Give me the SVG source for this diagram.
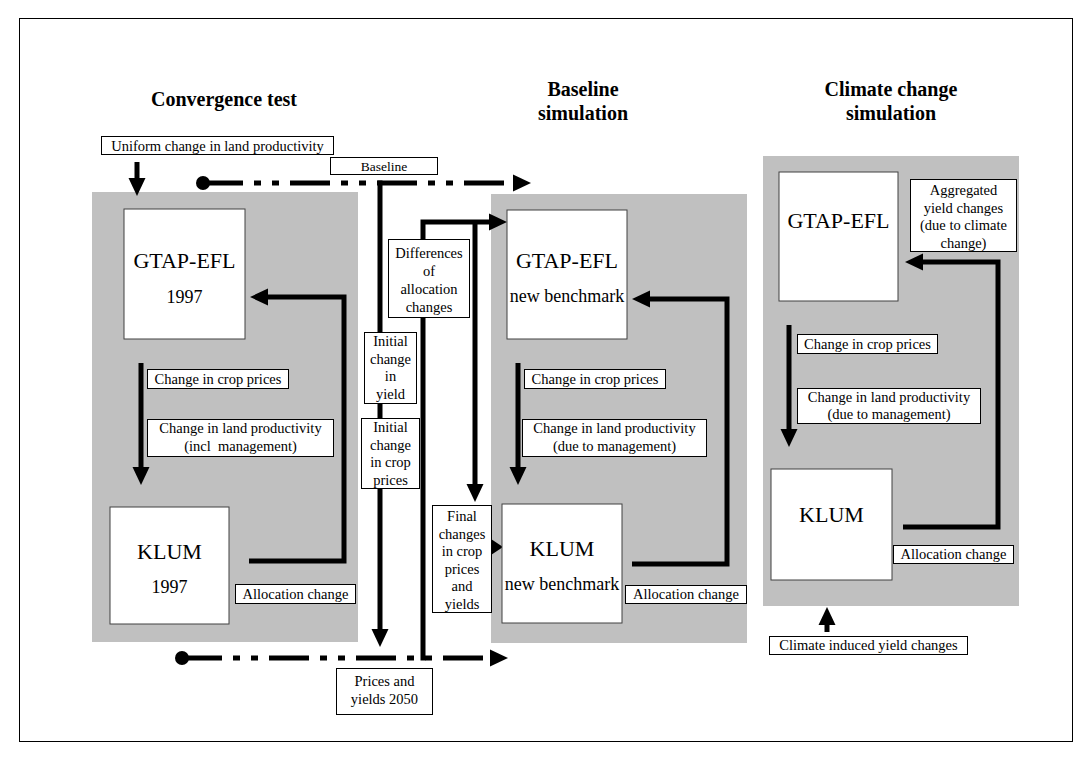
<svg xmlns="http://www.w3.org/2000/svg" width="1092" height="760" viewBox="0 0 1092 760">
<style>
.bg{fill:#fff}
.frame{fill:none;stroke:#000;stroke-width:1}
.panel{fill:#c0c0c0}
.node{fill:#fff;stroke:#404040;stroke-width:1}
.lbl{fill:#fff;stroke:#000;stroke-width:1}
text{font-family:"Liberation Serif","Times New Roman",serif;fill:#000;text-anchor:middle}
.big{font-size:22px}
.sub{font-size:18px}
.s{font-size:14.5px}
.xs{font-size:13.5px}
.title{font-size:20px;font-weight:bold}
.line{stroke:#000;stroke-width:5;fill:none}
.dash{stroke-dasharray:40 11 7 11 7 11}
</style>
<defs>
<marker id="ah" markerUnits="userSpaceOnUse" markerWidth="18" markerHeight="17" refX="2" refY="8.5" orient="auto" overflow="visible">
<path d="M0,0 L18,8.5 L0,17 z" fill="#000"/>
</marker>
</defs>
<rect class="bg" x="0" y="0" width="1092" height="760"/>
<rect class="frame" x="19.5" y="18.5" width="1053" height="723"/>

<g id="titles">
<text class="title" x="224" y="106">Convergence test</text>
<text class="title" x="583" y="96">Baseline</text>
<text class="title" x="583" y="120">simulation</text>
<text class="title" x="891" y="96">Climate change</text>
<text class="title" x="891" y="120">simulation</text>
</g>

<g id="panels">
<rect class="panel" x="92" y="192" width="266" height="450"/>
<rect class="panel" x="491" y="194" width="256" height="449"/>
<rect class="panel" x="763" y="156" width="256" height="450"/>
</g>

<g id="connectors">
<path class="line dash" d="M203,183 H515" marker-end="url(#ah)"/>
<circle cx="203" cy="183" r="7" fill="#000"/>
<path class="line dash" d="M182,658 H492" marker-end="url(#ah)"/>
<circle cx="182" cy="658" r="7" fill="#000"/>
<path class="line" d="M137,162 V180" marker-end="url(#ah)"/>
<path class="line" d="M141,363 V469" marker-end="url(#ah)"/>
<path class="line" d="M249,561 H344 V297 H266" marker-end="url(#ah)"/>
<path class="line" d="M518,363 V469" marker-end="url(#ah)"/>
<path class="line" d="M632,564 H727 V299 H648" marker-end="url(#ah)"/>
<path class="line" d="M789,325 V431" marker-end="url(#ah)"/>
<path class="line" d="M903,527 H998 V262 H921" marker-end="url(#ah)"/>
<path class="line" d="M827,632 V623" marker-end="url(#ah)"/>
<path class="line" d="M380,180.5 V631" marker-end="url(#ah)"/>
<path class="line" d="M423,660.5 V222 H491" marker-end="url(#ah)"/>
<path class="line" d="M475,222 V486" marker-end="url(#ah)"/>
<polygon points="491,539 503,547 491,555" fill="#000"/>
</g>

<g id="gtap-1997">
<rect class="node" x="124" y="209" width="121" height="130"/>
<text class="big" x="184.5" y="268">GTAP-EFL</text>
<text class="sub" x="184.5" y="303">1997</text>
</g>
<g id="klum-1997">
<rect class="node" x="110" y="507" width="119" height="117"/>
<text class="big" x="169.5" y="559">KLUM</text>
<text class="sub" x="169.5" y="593">1997</text>
</g>
<g id="gtap-new">
<rect class="node" x="507" y="210" width="120" height="129"/>
<text class="big" x="567" y="268">GTAP-EFL</text>
<text class="sub" x="567" y="302">new benchmark</text>
</g>
<g id="klum-new">
<rect class="node" x="502" y="504" width="120" height="119"/>
<text class="big" x="562" y="556">KLUM</text>
<text class="sub" x="562" y="590">new benchmark</text>
</g>
<g id="gtap-cc">
<rect class="node" x="779" y="172" width="119" height="129"/>
<text class="big" x="838.5" y="228">GTAP-EFL</text>
</g>
<g id="klum-cc">
<rect class="node" x="771" y="469" width="121" height="111"/>
<text class="big" x="831.5" y="522">KLUM</text>
</g>

<g id="lbl-uniform">
<rect class="lbl" x="101.5" y="136.5" width="232" height="18"/>
<text class="s" x="217.5" y="150.5">Uniform change in land productivity</text>
</g>
<g id="lbl-baseline">
<rect class="lbl" x="330.5" y="157.5" width="107" height="17"/>
<text class="xs" x="384" y="170.5">Baseline</text>
</g>
<g id="lbl-crop-l">
<rect class="lbl" x="147.5" y="369.5" width="141" height="19"/>
<text class="s" x="218" y="383.5">Change in crop prices</text>
</g>
<g id="lbl-land-l">
<rect class="lbl" x="147.5" y="419.5" width="186" height="37"/>
<text class="s" x="240.5" y="432.5">Change in land productivity</text>
<text class="s" x="240.5" y="450.5" xml:space="preserve">(incl  management)</text>
</g>
<g id="lbl-alloc-l">
<rect class="lbl" x="235.5" y="584.5" width="120" height="19"/>
<text class="s" x="295.5" y="598.5">Allocation change</text>
</g>
<g id="lbl-crop-m">
<rect class="lbl" x="524.5" y="369.5" width="141" height="19"/>
<text class="s" x="595" y="383.5">Change in crop prices</text>
</g>
<g id="lbl-land-m">
<rect class="lbl" x="522.5" y="419.5" width="184" height="37"/>
<text class="s" x="614.5" y="433">Change in land productivity</text>
<text class="s" x="614.5" y="451">(due to management)</text>
</g>
<g id="lbl-alloc-m">
<rect class="lbl" x="625.5" y="585.5" width="121" height="18"/>
<text class="s" x="686" y="599">Allocation change</text>
</g>
<g id="lbl-crop-r">
<rect class="lbl" x="797.5" y="334.5" width="140" height="19"/>
<text class="s" x="867.5" y="348.5">Change in crop prices</text>
</g>
<g id="lbl-land-r">
<rect class="lbl" x="797.5" y="388.5" width="183" height="35"/>
<text class="s" x="889" y="402">Change in land productivity</text>
<text class="s" x="889" y="419">(due to management)</text>
</g>
<g id="lbl-alloc-r">
<rect class="lbl" x="893.5" y="545.5" width="120" height="18"/>
<text class="s" x="953.5" y="559">Allocation change</text>
</g>
<g id="lbl-aggregated">
<rect class="lbl" x="910.5" y="179.5" width="106" height="72"/>
<text class="s" x="963.5" y="195">Aggregated</text>
<text class="s" x="963.5" y="212.5">yield changes</text>
<text class="s" x="963.5" y="230">(due to climate</text>
<text class="s" x="963.5" y="247.5">change)</text>
</g>
<g id="lbl-climate">
<rect class="lbl" x="769.5" y="636.5" width="198" height="18"/>
<text class="s" x="868.5" y="650">Climate induced yield changes</text>
</g>
<g id="lbl-differences">
<rect class="lbl" x="388.5" y="239.5" width="81" height="78"/>
<text class="s" x="429" y="258">Differences</text>
<text class="s" x="429" y="276">of</text>
<text class="s" x="429" y="294">allocation</text>
<text class="s" x="429" y="312">changes</text>
</g>
<g id="lbl-init-yield">
<rect class="lbl" x="364.5" y="332.5" width="52" height="71"/>
<text class="s" x="390.5" y="346">Initial</text>
<text class="s" x="390.5" y="363.5">change</text>
<text class="s" x="390.5" y="381">in</text>
<text class="s" x="390.5" y="398.5">yield</text>
</g>
<g id="lbl-init-prices">
<rect class="lbl" x="361.5" y="418.5" width="58" height="70"/>
<text class="s" x="390.5" y="432">Initial</text>
<text class="s" x="390.5" y="449.5">change</text>
<text class="s" x="390.5" y="467">in crop</text>
<text class="s" x="390.5" y="484.5">prices</text>
</g>
<g id="lbl-final">
<rect class="lbl" x="432.5" y="505.5" width="59" height="107"/>
<text class="s" x="462" y="521">Final</text>
<text class="s" x="462" y="538.5">changes</text>
<text class="s" x="462" y="556">in crop</text>
<text class="s" x="462" y="573.5">prices</text>
<text class="s" x="462" y="591">and</text>
<text class="s" x="462" y="608.5">yields</text>
</g>
<g id="lbl-prices-2050">
<rect class="lbl" x="336.5" y="668.5" width="96" height="46"/>
<text class="s" x="384.5" y="686">Prices and</text>
<text class="s" x="384.5" y="704">yields 2050</text>
</g>
</svg>
